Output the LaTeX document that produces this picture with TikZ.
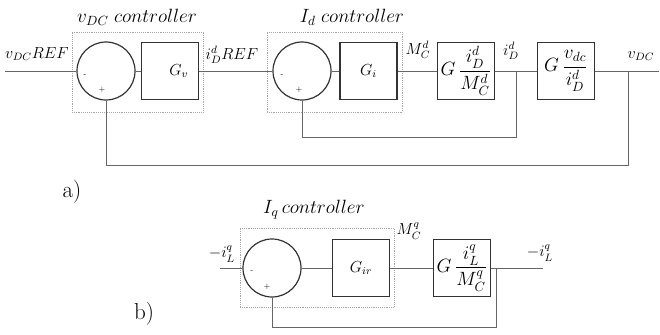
\documentclass[tikz,border=0pt]{standalone}
\usepackage{amsmath,amssymb}
\usetikzlibrary{backgrounds,positioning}
\pgfdeclarelayer{edgelayer}
\pgfdeclarelayer{nodelayer}
\pgfsetlayers{background,edgelayer,nodelayer,main}
\tikzstyle{none}=[inner sep=0mm]
\tikzstyle{sum}=[shape=circle,draw=black!80,line width=0.9pt,fill=white,minimum size=43.5pt,inner sep=0pt]
\tikzstyle{blk}=[shape=rectangle,draw=black!80,line width=0.9pt,fill=white,minimum width=42.75pt,minimum height=42.75pt,inner sep=0pt,font=\large]
\tikzstyle{frac blk}=[blk,font=\Large]
\tikzstyle{ctrl}=[shape=rectangle,draw=black!35,densely dotted,line width=0.4pt,inner sep=0pt]
\tikzstyle{sig}=[draw=black!60,line width=0.5pt]
\tikzstyle{sgn}=[inner sep=0mm,font=\tiny]
\tikzstyle{lbl}=[inner sep=0mm,font=\large]
\tikzstyle{ttl}=[inner sep=0mm,font=\fontsize{13.7}{16}\selectfont]

\begin{document}
\begin{tikzpicture}[x=0.75pt,y=-0.75pt]
	\useasboundingbox (0,0) rectangle (660,335);
	\begin{pgfonlayer}{background}
		\node [style=ctrl,minimum width=98.25pt,minimum height=60pt] (vbox) at (137.5, 72) {};
		\node [style=ctrl,minimum width=101.25pt,minimum height=60pt] (ibox) at (334.5, 72) {};
		\node [style=ctrl,minimum width=115.5pt,minimum height=59.25pt] (qbox) at (317, 267.5) {};
	\end{pgfonlayer}
	\begin{pgfonlayer}{nodelayer}
		% a) d-axis loop
		\node [style=none] (vin) at (5, 71) {};
		\node [style=sum] (c1) at (106, 71) {};
		\node [style=blk] (gv) at (170, 71) {\hspace{1.1em}$G_v$};
		\node [style=sum] (c2) at (302, 71) {};
		\node [style=blk] (gi) at (368.5, 71) {$G_i$};
		\node [style=frac blk] (gp) at (466, 71) {$G\,\dfrac{i_D^d}{M_C^d}$};
		\node [style=frac blk] (gd) at (566, 71) {$G\,\dfrac{v_{dc}}{i_D^d}$};
		\node [style=none] (vout) at (659, 71) {};
		\node [style=none] (t1) at (516, 71) {};
		\node [style=none] (k1) at (516, 137) {};
		\node [style=none] (k2) at (302, 137) {};
		\node [style=none] (t2) at (628, 71) {};
		\node [style=none] (k3) at (628, 165) {};
		\node [style=none] (k4) at (106, 165) {};
		\node [style=sgn] (m1) at (85, 76) {-};
		\node [style=sgn] (p1) at (102, 90) {+};
		\node [style=sgn] (m2) at (282, 76) {-};
		\node [style=sgn] (p2) at (299, 90) {+};
		\node [style=lbl] (lvref) at (37, 54) {$v_{DC}REF$};
		\node [style=lbl] (liref) at (232, 55) {$i_D^dREF$};
		\node [style=lbl] (lmd) at (418, 50) {$M_C^d$};
		\node [style=lbl] (lid) at (511, 51) {$i_D^d$};
		\node [style=lbl] (lvdc) at (641, 56) {$v_{DC}$};
		\node [style=ttl] (tv) at (137, 17) {$v_{DC}\;controller$};
		\node [style=ttl] (ti) at (352, 17) {$I_d\;controller$};
		\node [font=\LARGE] (la) at (72, 192) {a)};
		% b) q-axis loop
		\node [style=none] (qin) at (220, 268) {};
		\node [style=sum] (c3) at (272, 268) {};
		\node [style=blk] (gir) at (361, 268) {$G_{ir}$};
		\node [style=frac blk] (gq) at (462, 268) {$G\,\dfrac{i_L^q}{M_C^q}$};
		\node [style=none] (qout) at (543, 268) {};
		\node [style=none] (t3) at (496, 268) {};
		\node [style=none] (k5) at (496, 327) {};
		\node [style=none] (k6) at (272, 327) {};
		\node [style=sgn] (m3) at (252, 272) {-};
		\node [style=sgn] (p3) at (267, 287) {+};
		\node [style=lbl] (lqin) at (222, 254) {$-i_L^q$};
		\node [style=lbl] (lmq) at (409, 231) {$M_C^q$};
		\node [style=lbl] (lqout) at (540, 253) {$-i_L^q$};
		\node [style=ttl] (tq) at (314, 210) {$I_q\,controller$};
		\node [font=\LARGE] (lb) at (144, 314) {b)};
	\end{pgfonlayer}
	\begin{pgfonlayer}{edgelayer}
		\draw [style=sig] (vin.center) to (c1);
		\draw [style=sig] (c1) to (gv);
		\draw [style=sig] (gv) to (c2);
		\draw [style=sig] (c2) to (gi);
		\draw [style=sig] (gi) to (gp);
		\draw [style=sig] (gp) to (gd);
		\draw [style=sig] (gd) to (vout.center);
		\draw [style=sig] (t1.center) -- (k1.center) -- (k2.center) -- (c2.south);
		\draw [style=sig] (t2.center) -- (k3.center) -- (k4.center) -- (c1.south);
		\draw [style=sig] (qin.center) to (c3);
		\draw [style=sig] (c3) to (gir);
		\draw [style=sig] (gir) to (gq);
		\draw [style=sig] (gq) to (qout.center);
		\draw [style=sig] (t3.center) -- (k5.center) -- (k6.center) -- (c3.south);
	\end{pgfonlayer}
\end{tikzpicture}
\end{document}
